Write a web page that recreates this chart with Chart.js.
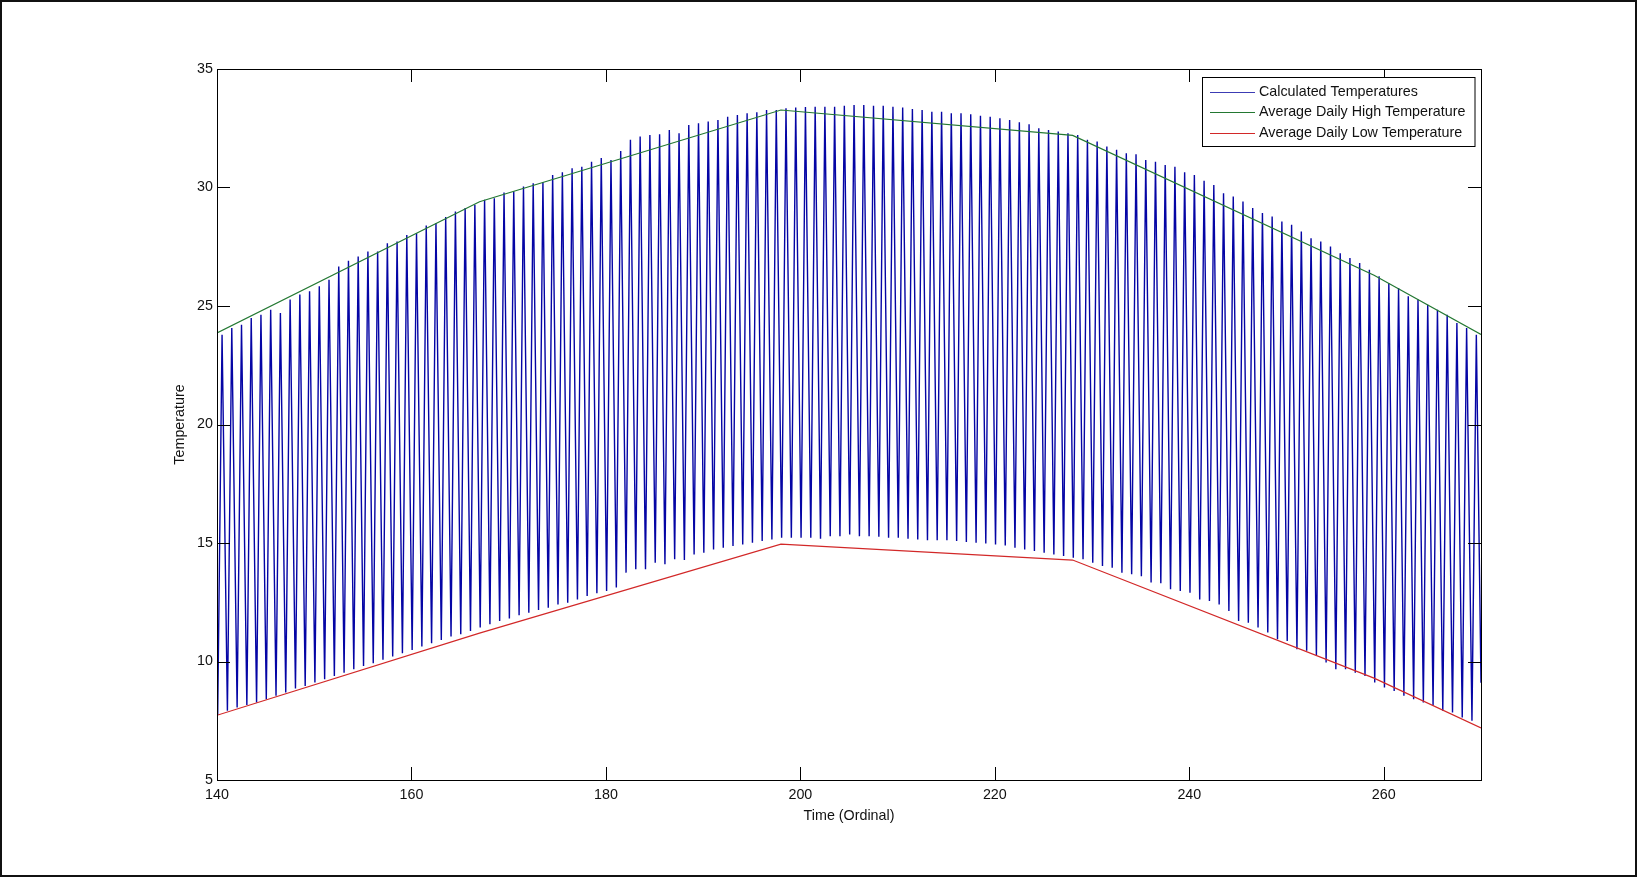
<!DOCTYPE html>
<html>
<head>
<meta charset="utf-8">
<script src="https://cdn.jsdelivr.net/npm/chart.js@4.4.0/dist/chart.umd.min.js"></script>
<style>
  html, body { margin: 0; padding: 0; background: #fff; }
  canvas { display: block; }
</style>
</head>
<body>
<canvas id="chart-temps" width="1637" height="877"></canvas>
<script>
// daily minimum / maximum of the calculated series, one per day from day 140
const firstDay = 140;
const dailyLow = [
    7.74, 7.92, 8.06, 8.16, 8.27, 8.41, 8.55, 8.69, 8.86, 8.97,
    9.11, 9.25, 9.39, 9.53, 9.67, 9.81, 9.93, 10.07, 10.21, 10.35,
    10.49, 10.63, 10.77, 10.91, 11.05, 11.15, 11.29, 11.43, 11.57, 11.71,
    11.81, 11.95, 12.06, 12.17, 12.27, 12.41, 12.48, 12.62, 12.76, 12.88,
    12.97, 13.12, 13.75, 13.89, 13.89, 14.17, 14.10, 14.31, 14.28, 14.52,
    14.59, 14.73, 14.80, 14.87, 14.94, 15.01, 15.08, 15.15, 15.22, 15.22,
    15.22, 15.22, 15.18, 15.29, 15.29, 15.36, 15.29, 15.29, 15.26, 15.22,
    15.22, 15.18, 15.15, 15.12, 15.12, 15.12, 15.08, 15.04, 15.01, 14.98,
    14.94, 14.90, 14.80, 14.73, 14.66, 14.59, 14.52, 14.45, 14.38, 14.31,
    14.17, 14.03, 13.96, 13.75, 13.68, 13.60, 13.33, 13.30, 13.05, 12.97,
    12.90, 12.62, 12.55, 12.41, 12.13, 11.71, 11.64, 11.43, 11.22, 10.94,
    10.87, 10.52, 10.45, 10.24, 9.96, 9.67, 9.67, 9.53, 9.39, 9.11,
    8.90, 8.76, 8.55, 8.41, 8.27, 8.13, 7.92, 7.85, 7.64, 7.50
];
const dailyHigh = [
    23.79, 24.07, 24.21, 24.49, 24.63, 24.84, 24.70, 25.27, 25.48, 25.62,
    25.83, 26.11, 26.67, 26.91, 27.09, 27.30, 27.30, 27.65, 27.72, 28.00,
    28.07, 28.40, 28.50, 28.75, 28.99, 29.13, 29.27, 29.48, 29.55, 29.79,
    29.83, 30.04, 30.18, 30.22, 30.53, 30.64, 30.81, 30.88, 31.09, 31.24,
    31.16, 31.54, 32.01, 32.15, 32.22, 32.25, 32.43, 32.29, 32.64, 32.71,
    32.78, 32.85, 32.99, 33.06, 33.13, 33.17, 33.27, 33.27, 33.34, 33.37,
    33.40, 33.41, 33.41, 33.41, 33.45, 33.48, 33.48, 33.45, 33.45, 33.41,
    33.37, 33.31, 33.27, 33.20, 33.20, 33.13, 33.13, 33.09, 33.03, 32.99,
    32.92, 32.85, 32.75, 32.67, 32.50, 32.43, 32.36, 32.29, 32.22, 32.01,
    31.94, 31.73, 31.59, 31.45, 31.40, 31.16, 31.09, 30.95, 30.88, 30.64,
    30.53, 30.28, 30.11, 29.76, 29.62, 29.41, 29.13, 28.92, 28.78, 28.57,
    28.43, 28.14, 27.86, 27.72, 27.51, 27.23, 27.02, 26.81, 26.53, 26.25,
    25.97, 25.76, 25.41, 25.27, 25.05, 24.84, 24.63, 24.28, 24.07, 23.79
];
const lastDay = 270;
const lastTemp = 9.1;

// monthly averages (mid-month ordinals)
const monthDays = [140, 167, 198, 228, 259, 270];
const avgHigh = [23.86, 29.4, 33.27, 32.2, 26.3, 23.8];
const avgLow = [7.73, 11.2, 14.95, 14.28, 9.3, 7.2];

const xTicks = [140, 160, 180, 200, 220, 240, 260];
const yTicks = [5, 10, 15, 20, 25, 30, 35];

// low just after the start of each day, peak around midday
const lowAt = 0.07, highAt = 0.52;
const calcPoints = [];
dailyLow.forEach((low, i) => {
    calcPoints.push({ x: firstDay + i + lowAt, y: low });
    calcPoints.push({ x: firstDay + i + highAt, y: dailyHigh[i] });
});
calcPoints.push({ x: lastDay, y: lastTemp });

const font = { family: "'Liberation Sans', Arial, sans-serif", size: 14.3 };
const fontCss = "14.3px 'Liberation Sans', Arial, sans-serif";

// box, inward ticks on all four sides, legend box and page frame
const matlabAxes = {
    id: 'matlabAxes',
    beforeDraw(chart) {
        const ctx = chart.ctx;
        ctx.save();
        ctx.fillStyle = '#fff';
        ctx.fillRect(0, 0, chart.width, chart.height);
        ctx.strokeStyle = '#111';
        ctx.lineWidth = 2;
        ctx.strokeRect(1, 1, chart.width - 2, chart.height - 2);
        ctx.restore();
    },
    afterDraw(chart) {
        const { ctx, chartArea: a, scales: { x, y } } = chart;
        const tl = 13;
        ctx.save();
        ctx.strokeStyle = '#000';
        ctx.lineWidth = 1;
        ctx.beginPath();
        x.ticks.forEach(t => {
            const px = Math.round(x.getPixelForValue(t.value)) + 0.5;
            ctx.moveTo(px, a.bottom); ctx.lineTo(px, a.bottom - tl);
            ctx.moveTo(px, a.top); ctx.lineTo(px, a.top + tl);
        });
        y.ticks.forEach(t => {
            const py = Math.round(y.getPixelForValue(t.value)) + 0.5;
            ctx.moveTo(a.left, py); ctx.lineTo(a.left + tl, py);
            ctx.moveTo(a.right, py); ctx.lineTo(a.right - tl, py);
        });
        ctx.stroke();
        ctx.strokeRect(Math.round(a.left) + 0.5, Math.round(a.top) + 0.5,
            Math.round(a.right - a.left), Math.round(a.bottom - a.top));

        // legend
        ctx.font = fontCss;
        const sets = chart.data.datasets;
        const textW = Math.max(...sets.map(d => ctx.measureText(d.label).width));
        const right = Math.round(a.right) - 6.5;
        const left = Math.round(right - textW - 66);
        const top = Math.round(a.top) + 8.5;
        const rowH = 20.5;
        const h = Math.round(rowH * sets.length + 7);
        ctx.fillStyle = '#fff';
        ctx.fillRect(left, top, right - left, h);
        ctx.strokeRect(left + 0.5, top, right - left, h);
        ctx.textBaseline = 'middle';
        ctx.textAlign = 'left';
        sets.forEach((d, i) => {
            const cy = Math.round(top + 14 + i * rowH) + 0.5;
            ctx.strokeStyle = d.legendColor;
            ctx.beginPath();
            ctx.moveTo(left + 8, cy); ctx.lineTo(left + 53, cy);
            ctx.stroke();
            ctx.fillStyle = '#111';
            ctx.fillText(d.label, left + 57, cy);
        });
        ctx.restore();
    }
};

new Chart(document.getElementById('chart-temps'), {
    type: 'line',
    data: {
        datasets: [{
            label: 'Calculated Temperatures',
            data: calcPoints,
            borderColor: 'rgb(5, 5, 165)',
            legendColor: 'rgb(60, 60, 180)',
            borderWidth: 1.4,
            order: 3
        }, {
            label: 'Average Daily High Temperature',
            data: monthDays.map((d, i) => ({ x: d, y: avgHigh[i] })),
            borderColor: 'rgb(35, 120, 50)',
            legendColor: 'rgb(35, 120, 50)',
            borderWidth: 1.2,
            order: 1
        }, {
            label: 'Average Daily Low Temperature',
            data: monthDays.map((d, i) => ({ x: d, y: avgLow[i] })),
            borderColor: 'rgb(210, 40, 40)',
            legendColor: 'rgb(210, 40, 40)',
            borderWidth: 1.2,
            order: 2
        }]
    },
    options: {
        responsive: false,
        animation: false,
        events: [],
        elements: { point: { radius: 0 }, line: { tension: 0 } },
        layout: { padding: { top: 69, right: 156, left: 0, bottom: 0 } },
        plugins: { legend: { display: false }, tooltip: { enabled: false } },
        scales: {
            x: {
                type: 'linear',
                min: 140,
                max: 270,
                grid: { display: false, drawTicks: false },
                border: { display: false },
                afterBuildTicks: scale => { scale.ticks = xTicks.map(v => ({ value: v })); },
                afterFit: scale => { scale.height = 97; },
                ticks: { font, color: '#111', padding: 6, maxRotation: 0, autoSkip: false },
                title: { display: true, text: 'Time (Ordinal)', font, color: '#111', padding: { top: 0, bottom: 52 } }
            },
            y: {
                min: 5,
                max: 35,
                grid: { display: false, drawTicks: false },
                border: { display: false },
                afterBuildTicks: scale => { scale.ticks = yTicks.map(v => ({ value: v })); },
                afterFit: scale => { scale.width = 217; },
                ticks: { font, color: '#111', padding: 4 },
                title: { display: true, text: 'Temperature', font, color: '#111', padding: { top: 171, bottom: 0 } }
            }
        }
    },
    plugins: [matlabAxes]
});
</script>
</body>
</html>
